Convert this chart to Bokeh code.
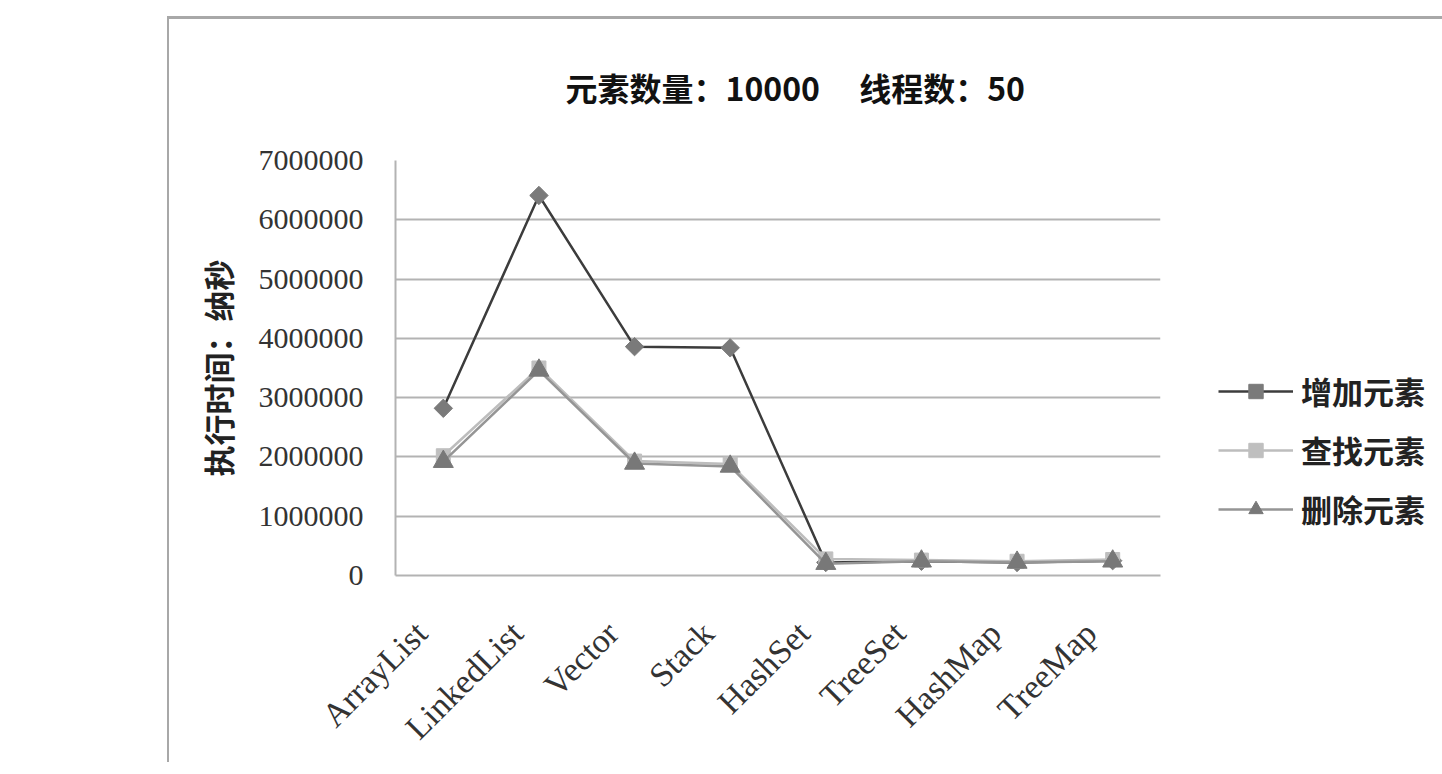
from math import pi
from bokeh.plotting import figure
from bokeh.models import (Range1d, FixedTicker, BasicTickFormatter,
                          Legend, LegendItem, LinearAxis)
from bokeh.embed import file_html
from bokeh.resources import INLINE

categories = ["ArrayList", "LinkedList", "Vector", "Stack", "HashSet", "TreeSet", "HashMap", "TreeMap"]
add_vals = [2820000, 6410000, 3860000, 3840000, 220000, 240000, 220000, 250000]
find_vals = [2020000, 3500000, 1930000, 1880000, 280000, 260000, 240000, 270000]
del_vals = [1920000, 3460000, 1890000, 1840000, 200000, 240000, 220000, 240000]
series_names = ["增加元素", "查找元素", "删除元素"]
y_ticks = [0, 1000000, 2000000, 3000000, 4000000, 5000000, 6000000, 7000000]
title_text = "元素数量：10000\u3000 线程数：50"
y_label = "执行时间：纳秒"

n = len(categories)
xs = list(range(n))          # category index of each point
label_shift = 0.23           # category-label offset (in category widths), as in the original layout

p = figure(x_range=Range1d(-0.5, n - 0.5), y_range=Range1d(0, 7000000),
           frame_width=765, frame_height=415,
           min_border_left=395, min_border_right=280,
           min_border_top=160, min_border_bottom=185,
           output_backend="svg", toolbar_location=None,
           background_fill_color="white", border_fill_color=None)
p.styles = {
    "background-color": "white",
    "background-image": "linear-gradient(#a8a8a8, #a8a8a8), linear-gradient(#a8a8a8, #a8a8a8)",
    "background-size": "100% 3px, 2px 100%",
    "background-position": "167px 16px, 167px 16px",
    "background-repeat": "no-repeat",
}
p.outline_line_color = None
p.xgrid.grid_line_color = None
p.ygrid.grid_line_color = "#b3b3b3"
p.ygrid.grid_line_width = 2

p.title.text = title_text
p.title.align = "left"
p.title.text_font = "Noto Sans CJK SC"
p.title.text_font_size = "32px"
p.title.text_font_style = "bold"
p.title.text_color = "#111111"
p.title.offset = 170
p.title.standoff = 102

p.yaxis.ticker = FixedTicker(ticks=y_ticks)
p.yaxis.formatter = BasicTickFormatter(use_scientific=False)
p.yaxis.axis_line_color = "#b3b3b3"
p.yaxis.axis_line_width = 2
p.yaxis.major_tick_line_color = None
p.yaxis.minor_tick_line_color = None
p.yaxis.major_label_text_font = "Liberation Serif"
p.yaxis.major_label_text_font_size = "30px"
p.yaxis.major_label_text_color = "#333333"
p.yaxis.major_label_standoff = 26
p.yaxis.axis_label = y_label
p.yaxis.axis_label_text_font = "Noto Sans CJK SC"
p.yaxis.axis_label_text_font_size = "31px"
p.yaxis.axis_label_text_font_style = "bold"
p.yaxis.axis_label_text_color = "#222222"
p.yaxis.axis_label_standoff = 16

# category axis: labels drawn by a companion axis whose ticks sit slightly left of the category centres
p.xaxis.visible = False
p.extra_x_ranges = {"labels": Range1d(-0.5 + label_shift, n - 0.5 + label_shift)}
lab_axis = LinearAxis(x_range_name="labels",
                      ticker=FixedTicker(ticks=xs),
                      major_label_overrides={i: c for i, c in zip(xs, categories)})
lab_axis.axis_line_color = "#b3b3b3"
lab_axis.axis_line_width = 2
lab_axis.major_tick_line_color = None
lab_axis.minor_tick_line_color = None
lab_axis.major_label_orientation = pi / 4
lab_axis.major_label_text_font = "Liberation Serif"
lab_axis.major_label_text_font_size = "34px"
lab_axis.major_label_text_color = "#333333"
lab_axis.major_label_standoff = 46
p.add_layout(lab_axis, "below")

l1 = p.line(xs, add_vals, line_color="#3c3c3c", line_width=2.5)
m1 = p.scatter(xs, add_vals, marker="square", angle=pi / 4, size=13,
               fill_color="#7a7a7a", line_color="#7a7a7a")
l2 = p.line(xs, find_vals, line_color="#bdbdbd", line_width=2.5)
m2 = p.scatter(xs, find_vals, marker="square", size=14, fill_color="#bfbfbf", line_color="#bfbfbf")
l3 = p.line(xs, del_vals, line_color="#959595", line_width=2.5)
m3 = p.scatter(xs, del_vals, marker="triangle", size=20, fill_color="#787878", line_color="#787878")

legend = Legend(items=[LegendItem(label=series_names[0], renderers=[l1, m1]),
                       LegendItem(label=series_names[1], renderers=[l2, m2]),
                       LegendItem(label=series_names[2], renderers=[l3, m3])],
                location=(58, 44), glyph_width=75, glyph_height=36, spacing=14,
                label_text_font="Noto Sans CJK SC", label_text_font_size="31px",
                label_text_font_style="bold",
                label_text_color="#222222", border_line_color=None,
                background_fill_alpha=0, padding=5, label_standoff=8)
p.add_layout(legend, "right")

open("out.html", "w").write(file_html(p, INLINE))
